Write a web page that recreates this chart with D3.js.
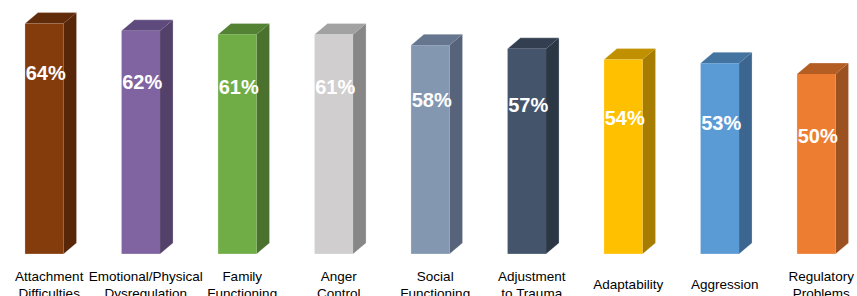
<!DOCTYPE html>
<html>
<head>
<meta charset="utf-8">
<script src="https://cdn.jsdelivr.net/npm/d3@7/dist/d3.min.js"></script>
<style>
  html, body { margin: 0; padding: 0; background: #fff; }
  svg { display: block; font-family: "Liberation Sans", Arial, sans-serif; }
</style>
</head>
<body>
<div id="chart"></div>
<script>
// chart data
const categories = ["Attachment Difficulties", "Emotional/Physical Dysregulation", "Family Functioning",
  "Anger Control", "Social Functioning", "Adjustment to Trauma", "Adaptability", "Aggression", "Regulatory Problems"];
const labelLines = [["Attachment", "Difficulties"], ["Emotional/Physical", "Dysregulation"], ["Family", "Functioning"],
  ["Anger", "Control"], ["Social", "Functioning"], ["Adjustment", "to Trauma"], ["Adaptability"], ["Aggression"],
  ["Regulatory", "Problems"]];
const values = [64, 62, 61, 61, 58, 57, 54, 53, 50];
const frontColors = ["#843c0c", "#8064a2", "#70ad47", "#d0cece", "#8497b0", "#44546a", "#ffc000", "#5b9bd5", "#ed7d31"];
const sideColors = ["#572707", "#534169", "#4a722e", "#888787", "#56637a", "#2c3746", "#a67d00", "#3c6690", "#9b5220"];
const topColors = ["#602c09", "#5f4a7d", "#548234", "#a3a2a2", "#66768f", "#333f51", "#c09000", "#43749f", "#b45e24"];

const W = 857, H = 296;
const depthX = 13, depthY = 11;
const base = 254;

const svg = d3.select("#chart").append("svg")
  .attr("width", W)
  .attr("height", H);

const x = d3.scaleBand()
  .domain(categories)
  .range([-4, 864.5])
  .paddingInner(0.6)
  .paddingOuter(0.3);

const y = d3.scaleLinear()
  .domain([0, 70])
  .range([base, 2]);

// where the data labels sit inside each bar
const labelY = d3.scaleLinear()
  .domain([50, 64])
  .range([136, 73]);

const w = x.bandwidth();

const bars = svg.selectAll(".bar")
  .data(values)
  .enter().append("g")
  .attr("class", "bar");

// side face
bars.append("path")
  .attr("fill", function(d, i) { return sideColors[i]; })
  .attr("d", function(d, i) {
    let x0 = x(categories[i]) + w, yt = y(d);
    return "M" + x0 + "," + yt + "L" + (x0 + depthX) + "," + (yt - depthY) +
      "L" + (x0 + depthX) + "," + (base - depthY) + "L" + x0 + "," + base + "Z";
  });

// top face
bars.append("path")
  .attr("fill", function(d, i) { return topColors[i]; })
  .attr("d", function(d, i) {
    let x0 = x(categories[i]), yt = y(d);
    return "M" + x0 + "," + yt + "L" + (x0 + depthX) + "," + (yt - depthY) +
      "L" + (x0 + w + depthX) + "," + (yt - depthY) + "L" + (x0 + w) + "," + yt + "Z";
  });

// front face
bars.append("rect")
  .attr("x", function(d, i) { return x(categories[i]); })
  .attr("y", function(d) { return y(d); })
  .attr("width", w)
  .attr("height", function(d) { return base - y(d); })
  .attr("fill", function(d, i) { return frontColors[i]; });

// outline, light edge like the original
bars.append("path")
  .attr("fill", "none")
  .attr("stroke", "#ffffff")
  .attr("stroke-opacity", 0.35)
  .attr("stroke-width", 0.8)
  .attr("d", function(d, i) {
    let x0 = x(categories[i]), yt = y(d);
    return "M" + x0 + "," + base + "L" + x0 + "," + yt + "L" + (x0 + depthX) + "," + (yt - depthY) +
      "L" + (x0 + w + depthX) + "," + (yt - depthY) + "L" + (x0 + w + depthX) + "," + (base - depthY) +
      "L" + (x0 + w) + "," + base + "Z";
  });

// value labels
bars.append("text")
  .attr("x", function(d, i) { return x(categories[i]) + w / 2 + 1.5; })
  .attr("y", function(d) { return labelY(d); })
  .attr("dy", "0.36em")
  .attr("text-anchor", "middle")
  .attr("fill", "#ffffff")
  .attr("font-weight", "bold")
  .attr("font-size", "20px")
  .text(function(d) { return d + "%"; });

// category labels
const cats = svg.selectAll(".cat")
  .data(labelLines)
  .enter().append("text")
  .attr("class", "cat")
  .attr("text-anchor", "middle")
  .attr("font-size", "13.5px")
  .attr("fill", "#000");

cats.each(function(lines, i) {
  let t = d3.select(this);
  let cx = x(categories[i]) + w / 2 + 5;
  let y0 = lines.length > 1 ? 276 : 284;
  lines.forEach(function(line, j) {
    t.append("tspan")
      .attr("x", cx)
      .attr("y", y0 + j * 17)
      .attr("dy", "0.36em")
      .text(line);
  });
});
</script>
</body>
</html>
